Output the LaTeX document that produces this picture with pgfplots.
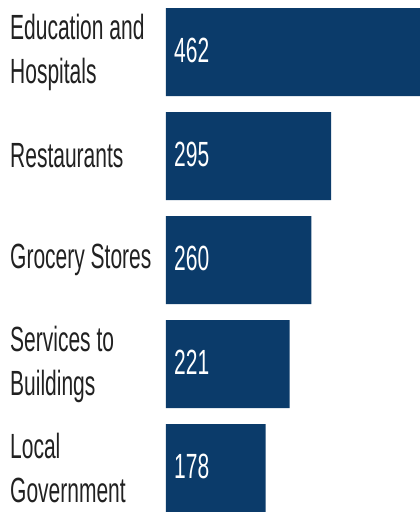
\documentclass[border=0pt]{standalone}
\usepackage{pgfplots}
\pgfplotsset{compat=1.18}
\usepackage{fontspec}
\setmainfont{Liberation Sans}[FakeStretch=0.6]
\definecolor{barblue}{RGB}{11,59,106}
\definecolor{labelgray}{RGB}{33,33,33}
\protected\def\labelfont{\fontsize{35pt}{44pt}\selectfont}
\begin{document}
\begin{tikzpicture}
\begin{axis}[
  at={(166pt,0pt)}, anchor=north west,
  scale only axis, width=254pt, height=520pt,
  xmin=0, xmax=454, ymin=-0.5, ymax=4.5, y dir=reverse,
  axis line style={draw=none}, tick style={draw=none},
  xtick=\empty,
  ytick={0,1,2,3,4},
  yticklabels={{Education and\\Hospitals},{Restaurants},{Grocery Stores},{Services to\\Buildings},{Local\\Government}},
  yticklabel style={anchor=west, xshift=-156pt, inner sep=0pt, text width=152pt, align=flush left,
    font=\labelfont, text=labelgray},
  clip=false,
]
\addplot[xbar, bar width=88pt, fill=barblue, draw=none] coordinates {(462,0) (295,1) (260,2) (221,3) (178,4)};
\addplot[draw=none, mark=none, nodes near coords, point meta=explicit symbolic,
  nodes near coords style={anchor=west, xshift=8pt, yshift=2pt, inner sep=0pt, text=white, font=\fontsize{35pt}{44pt}\selectfont}]
  coordinates {(0,0)[462] (0,1)[295] (0,2)[260] (0,3)[221] (0,4)[178]};
\end{axis}
\pgfresetboundingbox
\useasboundingbox (0,0) rectangle (420pt,-512pt);
\end{tikzpicture}
\end{document}
